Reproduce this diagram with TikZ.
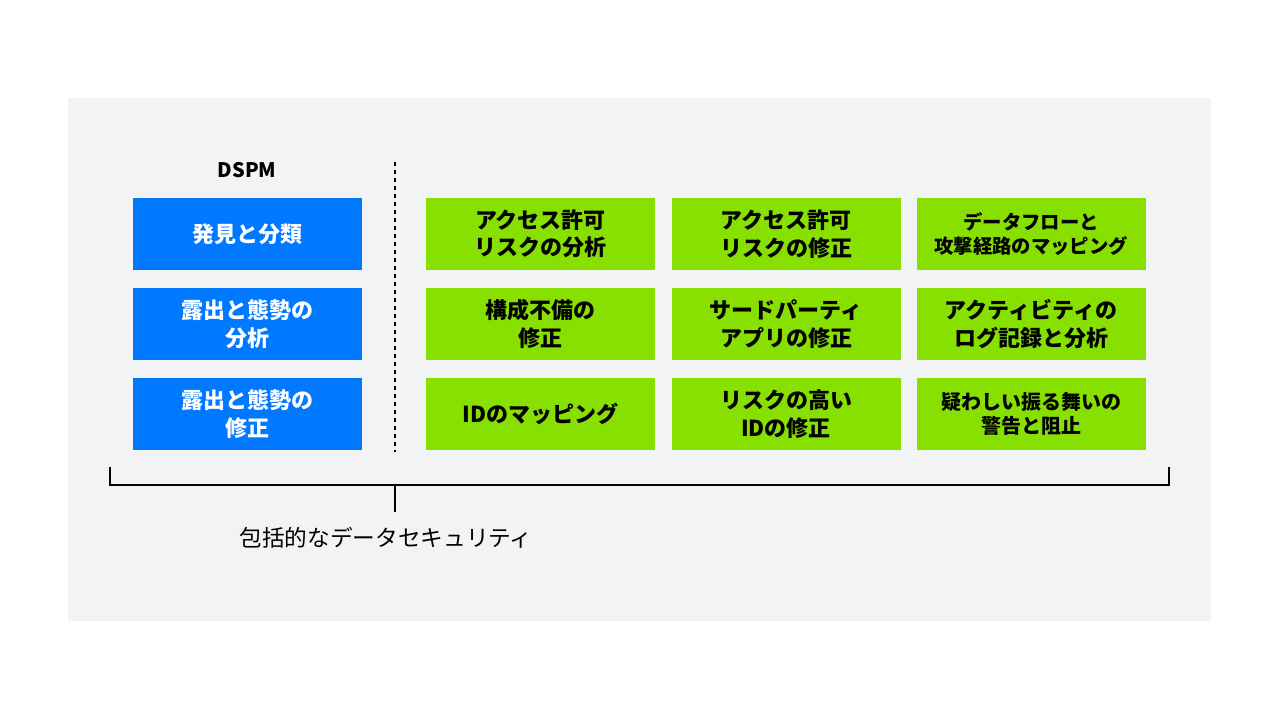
\documentclass[tikz,border=0pt]{standalone}
\usepackage{fontspec}
\setmainfont{Noto Sans CJK JP}
\definecolor{panel}{HTML}{F2F3F5}
\definecolor{bluebox}{HTML}{0078FF}
\definecolor{greenbox}{HTML}{88E000}
\tikzset{
  box/.style={minimum width=229*0.75pt, minimum height=72*0.75pt, inner sep=0pt, align=center, font=\bfseries\fontsize{16.5}{20.5}\selectfont},
  bbox/.style={box, fill=bluebox, text=white},
  gbox/.style={box, fill=greenbox, text=black},
}
\begin{document}
\begin{tikzpicture}[x=0.75pt,y=-0.75pt]
\useasboundingbox (0,0) rectangle (1279,719);
\fill[white] (0,0) rectangle (1279,719);
\fill[panel] (68,98) rectangle (1211,621);
\node[font=\bfseries\fontsize{15}{17}\selectfont] (dspm) at (247,170) {DSPM};
\node[bbox] (b1) at (247.5,234) {発見と分類};
\node[bbox] (b2) at (247.5,324) {露出と態勢の\\分析};
\node[bbox] (b3) at (247.5,414) {露出と態勢の\\修正};
\node[gbox] (g11) at (540.5,234) {アクセス許可\\リスクの分析};
\node[gbox] (g12) at (786,234) {アクセス許可\\リスクの修正};
\node[gbox, font=\bfseries\fontsize{14.5}{18}\selectfont] (g13) at (1031,234) {データフローと\\攻撃経路のマッピング};
\node[gbox] (g21) at (540.5,324) {構成不備の\\修正};
\node[gbox] (g22) at (786,324) {サードパーティ\\アプリの修正};
\node[gbox] (g23) at (1031,324) {アクティビティの\\ログ記録と分析};
\node[gbox] (g31) at (540.5,414) {IDのマッピング};
\node[gbox] (g32) at (786,414) {リスクの高い\\IDの修正};
\node[gbox, font=\bfseries\fontsize{15}{18}\selectfont] (g33) at (1031,414) {疑わしい振る舞いの\\警告と阻止};
\coordinate (dtop) at (395,162);
\coordinate (dbot) at (395,452);
\draw[dashed, line width=0.9pt] (dtop) -- (dbot);
\coordinate (bl) at (110,467);
\coordinate (br) at (1169,467);
\coordinate (bc) at (395,485);
\coordinate (bd) at (395,512);
\draw[line width=1pt] (bl) |- (br |- bc) -- (br);
\draw[line width=1pt] (bc) -- (bd);
\node[font=\fontsize{17}{20}\selectfont] (lbl) at (386,538) {包括的なデータセキュリティ};
\end{tikzpicture}
\end{document}
